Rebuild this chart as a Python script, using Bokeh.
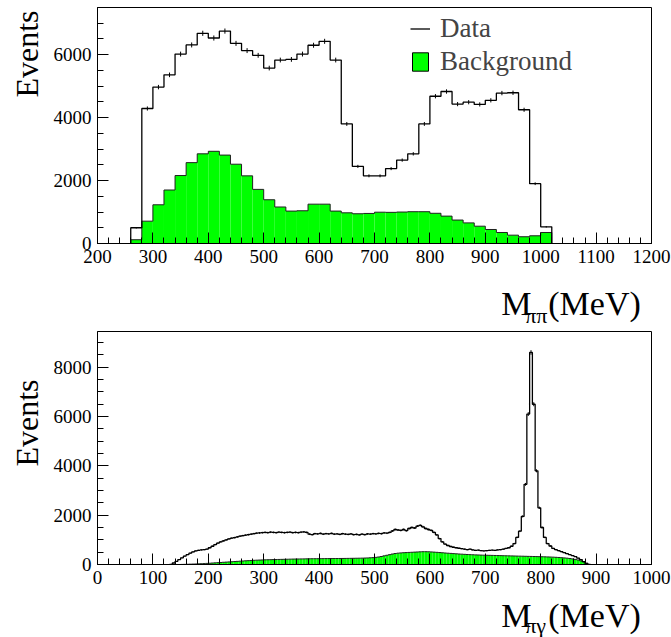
import numpy as np
from bokeh.plotting import figure
from bokeh.models import Range1d, Legend, LegendItem, FixedTicker, Title
from bokeh.core.properties import value
from bokeh.layouts import column
from bokeh.embed import file_html
from bokeh.resources import INLINE

# ---------------- data: M_pipi (20 MeV bins, lower edges) ----------------
mpp_lo = list(range(260, 1020, 20))
mpp_data = [500, 4290, 4970, 5360, 6020, 6310, 6680, 6530, 6750, 6360,
            6130, 5980, 5575, 5830, 5850, 6020, 6300, 6425, 5830, 3800,
            2450, 2150, 2150, 2380, 2650, 2850, 3800, 4680, 4830, 4430,
            4490, 4420, 4550, 4780, 4790, 4250, 1900, 530]
mpp_bkg = [120, 710, 1230, 1700, 2160, 2570, 2850, 2930, 2810, 2520,
           2150, 1720, 1390, 1160, 1030, 1040, 1250, 1250, 1030, 975,
           945, 955, 995, 990, 1000, 1010, 1010, 960, 870, 745,
           655, 550, 445, 350, 265, 215, 245, 350]
mpp_w = 20

# ---------------- data: M_pigamma (5 MeV bins, lower edges) ----------------
mpg_lo = list(range(130, 890, 5))
mpg_data = [0, 60, 130, 200, 270, 340, 400, 460, 510, 550,
            575, 590, 600, 620, 680, 740, 810, 870, 920, 960,
            1000, 1040, 1070, 1090, 1120, 1150, 1170, 1190, 1210, 1230,
            1250, 1270, 1280, 1290, 1300, 1290, 1310, 1300, 1290, 1310,
            1300, 1290, 1300, 1310, 1290, 1300, 1290, 1310, 1320, 1300,
            1230, 1210, 1250, 1240, 1260, 1230, 1250, 1240, 1260, 1230,
            1240, 1220, 1250, 1230, 1220, 1240, 1210, 1220, 1200, 1230,
            1210, 1240, 1230, 1250, 1240, 1260, 1250, 1280, 1270, 1300,
            1360, 1420, 1400, 1380, 1420, 1370, 1460, 1500, 1480, 1560,
            1590, 1530, 1460, 1420, 1380, 1300, 1200, 1050, 920, 830,
            770, 730, 700, 680, 660, 640, 620, 600, 620, 590,
            570, 580, 560, 550, 560, 570, 580, 570, 590, 600,
            620, 650, 680, 740, 850, 1100, 1350, 1950, 3250, 6100,
            8600, 6500, 3800, 2300, 1500, 1100, 850, 750, 650, 600,
            560, 520, 480, 440, 400, 360, 320, 260, 200, 120,
            40, 0]
mpg_bkg = [0, 0, 0, 0, 3, 6, 10, 14, 18, 22,
           27, 32, 38, 45, 52, 60, 67, 75, 82, 90,
           97, 105, 112, 120, 127, 135, 142, 150, 157, 163,
           170, 175, 180, 185, 190, 193, 196, 199, 202, 205,
           208, 211, 214, 217, 220, 222, 224, 226, 228, 230,
           232, 234, 235, 236, 237, 238, 239, 240, 241, 242,
           243, 244, 245, 246, 248, 250, 252, 254, 256, 258,
           262, 266, 272, 280, 290, 305, 325, 350, 375, 400,
           425, 445, 460, 470, 478, 484, 490, 496, 502, 508,
           514, 520, 520, 516, 510, 502, 494, 485, 476, 467,
           458, 450, 442, 434, 426, 419, 412, 406, 400, 395,
           390, 386, 382, 378, 375, 372, 369, 366, 363, 360,
           357, 354, 351, 348, 345, 342, 339, 336, 333, 330,
           327, 324, 321, 318, 315, 311, 307, 303, 298, 292,
           285, 277, 268, 257, 244, 228, 208, 182, 148, 105,
           50, 0]
mpg_w = 5

# tick labels
top_xticks = list(range(200, 1201, 100))
top_yticks = [0, 2000, 4000, 6000]
bot_xticks = list(range(0, 1001, 100))
bot_yticks = [0, 2000, 4000, 6000, 8000]

FONT = "Liberation Serif"
GREEN = "#00ff00"
W = 671


def step_path(lo, w, vals):
    xs, ys = [lo[0]], [0]
    for l, v in zip(lo, vals):
        xs += [l, l + w]
        ys += [v, v]
    xs.append(lo[-1] + w)
    ys.append(0)
    return xs, ys


def style(p, xt, xminor, yt, yminor):
    p.xgrid.visible = False
    p.ygrid.visible = False
    p.outline_line_color = "black"
    p.outline_line_width = 1
    p.background_fill_color = "white"
    p.border_fill_color = "white"
    p.xaxis.ticker = FixedTicker(ticks=xt, minor_ticks=xminor)
    p.yaxis.ticker = FixedTicker(ticks=yt, minor_ticks=yminor)
    for ax in (p.xaxis[0], p.yaxis[0]):
        ax.major_tick_in = 11
        ax.major_tick_out = 0
        ax.minor_tick_in = 6
        ax.minor_tick_out = 0
        ax.axis_line_color = "black"
        ax.major_tick_line_color = "black"
        ax.minor_tick_line_color = "black"
        ax.major_label_text_font = FONT
        ax.major_label_text_font_size = "19px"
        ax.major_label_text_color = "black"
        ax.major_label_standoff = 6


def draw_hist(p, lo, w, data, bkg, lw):
    lo_a = np.array(lo, dtype=float)
    p.quad(left=lo_a, right=lo_a + w, bottom=0, top=bkg,
           fill_color=GREEN, line_color=None)
    bx, by = step_path(lo, w, bkg)
    p.line(bx, by, line_color="#202020", line_width=1)
    dx, dy = step_path(lo, w, data)
    r = p.line(dx, dy, line_color="black", line_width=lw)
    d = np.array(data, dtype=float)
    err = np.sqrt(d)
    c = lo_a + w / 2
    m = d > 0
    p.segment(x0=c[m], x1=c[m], y0=(d - err)[m], y1=(d + err)[m],
              line_color="black", line_width=1)
    return r


def events_title(offset):
    return Title(text="Events", align="right", text_font=FONT,
                 text_font_size="32px", text_font_style="normal",
                 text_color="black", offset=offset, standoff=12)


def title_strip(h, sub, mid, sub_mid):
    s = figure(width=W, height=h, x_range=Range1d(0, W), y_range=Range1d(0, h),
               output_backend="svg", toolbar_location=None,
               x_axis_type=None, y_axis_type=None, min_border=0)
    s.outline_line_color = None
    s.xgrid.visible = False
    s.ygrid.visible = False
    s.text(x=[489], y=[h - mid], text=["M"], text_align="left",
           text_baseline="middle", text_font=value(FONT),
           text_font_size="34px", text_color="black")
    s.text(x=[518], y=[h - sub_mid], text=[sub], text_align="left",
           text_baseline="middle", text_font=value(FONT),
           text_font_size="22px", text_color="black")
    s.text(x=[546], y=[h - mid], text=["(MeV)"], text_align="left",
           text_baseline="middle", text_font=value(FONT),
           text_font_size="34px", text_color="black")
    return s


# ---------------- top figure ----------------
p1 = figure(width=W, height=283, x_range=Range1d(200, 1200),
            y_range=Range1d(0, 7500), output_backend="svg",
            toolbar_location=None, min_border_left=97, min_border_right=20,
            min_border_top=7, min_border_bottom=40)
style(p1, top_xticks, list(range(200, 1201, 20)), top_yticks,
      list(range(0, 7501, 500)))
data_r = draw_hist(p1, mpp_lo, mpp_w, mpp_data, mpp_bkg, 1.3)
# legend-only swatch (zero-size quad outside the visible x range)
swatch = p1.quad(left=[100], right=[100], top=[0], bottom=[0], fill_color=GREEN,
                 line_color="black", line_width=1)
leg = Legend(items=[LegendItem(label="Data", renderers=[data_r]),
                    LegendItem(label="Background", renderers=[swatch])],
             location=(313, 166), label_text_font=FONT,
             label_text_font_size="27px", glyph_width=20, glyph_height=23,
             label_standoff=10, spacing=2, padding=0, margin=0,
             border_line_color=None, background_fill_alpha=0)
p1.add_layout(leg)
p1.add_layout(events_title(3), "left")

strip1 = title_strip(47, "ππ", 20, 32)

# ---------------- bottom figure ----------------
p2 = figure(width=W, height=266, x_range=Range1d(0, 1000),
            y_range=Range1d(0, 9450), output_backend="svg",
            toolbar_location=None, min_border_left=97, min_border_right=20,
            min_border_top=1, min_border_bottom=32)
style(p2, bot_xticks, list(range(0, 1001, 20)), bot_yticks,
      list(range(0, 9451, 500)))
draw_hist(p2, mpg_lo, mpg_w, mpg_data, mpg_bkg, 1.3)
p2.add_layout(events_title(48), "left")

strip2 = title_strip(41, "πγ", 19, 29)

layout = column(p1, strip1, p2, strip2, spacing=0)
open("out.html", "w").write(file_html(layout, INLINE))
